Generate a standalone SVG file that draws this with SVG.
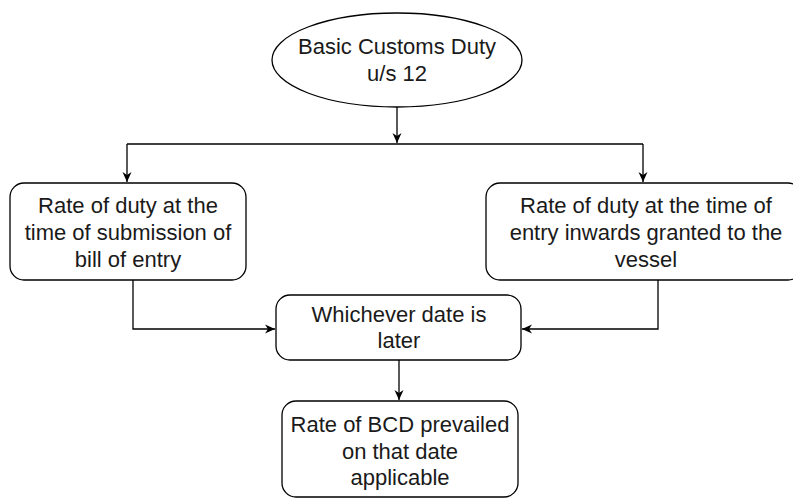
<svg xmlns="http://www.w3.org/2000/svg" width="793" height="499" viewBox="0 0 793 499">
<style>
.n{fill:#fff;stroke:#000;stroke-width:1.3}
.t{font-family:"Liberation Sans",Arial,sans-serif;font-size:22px;fill:#1a1a1a;text-anchor:middle}
.c{fill:none;stroke:#000;stroke-width:1.3}
</style>
<defs>
<marker id="a" markerUnits="userSpaceOnUse" markerWidth="12" markerHeight="10" refX="10" refY="5" orient="auto">
<path d="M0,0.5 L10,5 L0,9.5 L3,5 Z" fill="#000"/>
</marker>
</defs>
<rect width="793" height="499" fill="#fff"/>
<g id="connectors">
<path class="c" d="M397,107 V143" marker-end="url(#a)"/>
<path class="c" d="M127,144 H643"/>
<path class="c" d="M127,144 V182" marker-end="url(#a)"/>
<path class="c" d="M643,144 V182" marker-end="url(#a)"/>
<path class="c" d="M133,280 V329 H275" marker-end="url(#a)"/>
<path class="c" d="M658,280 V329 H522" marker-end="url(#a)"/>
<path class="c" d="M399,360 V400" marker-end="url(#a)"/>
</g>
<g id="n1">
<ellipse class="n" cx="397" cy="60" rx="125" ry="47"/>
<text class="t" x="397" y="54">Basic Customs Duty</text>
<text class="t" x="397" y="81">u/s 12</text>
</g>
<g id="n2">
<rect class="n" x="10" y="183" width="236" height="97" rx="14"/>
<text class="t" x="128" y="213">Rate of duty at the</text>
<text class="t" x="128" y="240">time of submission of</text>
<text class="t" x="128" y="267">bill of entry</text>
</g>
<g id="n3">
<rect class="n" x="486" y="183" width="316" height="97" rx="14"/>
<text class="t" x="646" y="213">Rate of duty at the time of</text>
<text class="t" x="646" y="240">entry inwards granted to the</text>
<text class="t" x="646" y="267">vessel</text>
</g>
<g id="n4">
<rect class="n" x="276" y="295" width="245" height="65" rx="14"/>
<text class="t" x="399" y="322">Whichever date is</text>
<text class="t" x="399" y="348">later</text>
</g>
<g id="n5">
<rect class="n" x="282" y="401" width="236" height="96" rx="14"/>
<text class="t" x="400" y="432">Rate of BCD prevailed</text>
<text class="t" x="400" y="459">on that date</text>
<text class="t" x="400" y="485">applicable</text>
</g>
</svg>
